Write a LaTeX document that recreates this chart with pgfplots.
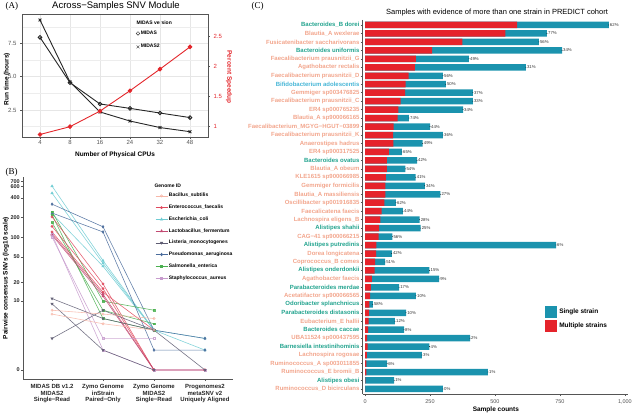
\documentclass[border=0pt]{standalone}
\usepackage{pgfplots}
\pgfplotsset{compat=1.18}
\usepackage{pgfplotstable}
\usepackage{fontspec}
\setmainfont{Liberation Sans}
\newfontfamily\seriffont{Liberation Serif}
\definecolor{bact}{HTML}{22A38E}
\definecolor{firm}{HTML}{F2A58C}
\definecolor{acti}{HTML}{45B5D6}
\definecolor{single}{HTML}{1B93AE}
\definecolor{multi}{HTML}{E5232B}
\definecolor{spd}{HTML}{E3262B}
\definecolor{bsC}{HTML}{F7B7A8}
\definecolor{efC}{HTML}{E04A5E}
\definecolor{ecC}{HTML}{6FCCD3}
\definecolor{lfC}{HTML}{C24A72}
\definecolor{lmC}{HTML}{5E5C72}
\definecolor{paC}{HTML}{4A6C9C}
\definecolor{seC}{HTML}{4BB050}
\definecolor{saC}{HTML}{C79BCD}
\definecolor{gridc}{HTML}{E6E6E6}
\definecolor{axc}{HTML}{555555}
\newcommand\Bt[1]{\textcolor{bact}{#1}}
\newcommand\Fm[1]{\textcolor{firm}{#1}}
\newcommand\Ac[1]{\textcolor{acti}{#1}}
\pgfplotsset{
  bs/.style={color=bsC, mark=o, mark size=1.1pt, line width=0.6pt},
  ef/.style={color=efC, mark=*, mark size=1.1pt, line width=0.6pt},
  ec/.style={color=ecC, mark=triangle*, mark size=1.3pt, line width=0.6pt},
  lf/.style={color=lfC, mark=triangle*, mark size=1.3pt, line width=0.6pt},
  lm/.style={color=lmC, mark=triangle*, mark size=1.3pt, mark options={rotate=180}, line width=0.6pt},
  pa/.style={color=paC, mark=diamond*, mark size=1.3pt, line width=0.6pt},
  se/.style={color=seC, mark=square*, mark size=0.9pt, line width=0.6pt},
  sa/.style={color=saC, mark=square, mark size=0.9pt, line width=0.6pt},
}
\newcommand\gline[2]{\addplot[#1,forget plot,opacity=0.85] table[x index=0,y expr={log10(\thisrowno{1}+1)},row sep=\\]{#2};}

\pgfplotstableread{
idx total multi pct
0 938 585 62
1 700 540 77
2 669 375 56
3 758 258 34
4 400 196 49
5 619 192 31
6 300 168 56
7 311 156 50
8 415 154 37
9 415 137 33
10 377 128 34
11 169 125 74
12 250 110 44
13 300 108 36
14 222 109 49
15 142 92 65
16 200 84 42
17 155 84 54
18 195 80 41
19 230 78 34
20 290 78 27
21 119 74 62
22 146 64 44
23 210 59 28
24 214 54 25
25 105 52 56
26 735 44 6
27 103 43 42
28 77 39 51
29 248 37 15
30 285 26 9
31 131 22 17
32 196 20 10
33 30 17 58
34 158 16 10
35 115 14 12
36 150 12 8
37 404 8 2
38 248 10 4
39 219 7 3
40 85 5 6
41 473 5 1
42 112 1 1
43 300 0 0
}\dataC

\begin{document}
\begin{tikzpicture}
\useasboundingbox (0,0) rectangle (636pt,415pt);

% ---------------- Panel A ----------------
\node[anchor=west, font=\seriffont\fontsize{9}{10}\selectfont] at (2pt,409pt) {(A)};
\node[font=\fontsize{9.5}{10}\selectfont] at (116pt,408.5pt) {Across−Samples SNV Module};
\node[anchor=west, font=\bfseries\fontsize{5}{6}\selectfont] at (133pt,392pt) {MIDAS version};

\begin{axis}[
  at={(22pt,277.7pt)}, anchor=south west, scale only axis,
  width=186pt, height=122.9pt,
  xmin=-0.6, xmax=5.6, ymin=0.45, ymax=9.67,
  xtick={0,...,5}, xticklabels={4,8,16,24,32,48},
  ytick={2.5,5,7.5},
  minor ytick={1.25,3.75,6.25,8.75},
  yticklabel style={/pgf/number format/.cd,fixed,fixed zerofill,precision=1},
  grid=both,
  major grid style={gridc, line width=0.6pt},
  minor grid style={gridc!70, line width=0.3pt},
  axis line style={axc, line width=0.6pt},
  tick style={axc, line width=0.5pt},
  tick align=outside, major tick length=2pt, minor tick length=0pt,
  xtick pos=bottom, ytick pos=left,
  tick label style={font=\fontsize{6}{7}\selectfont, text=axc},
  xticklabel style={inner sep=1pt},
  /pgf/number format/assume math mode=true,
  xlabel={Number of Physical CPUs},
  xlabel style={font=\bfseries\fontsize{6.5}{7}\selectfont, at={(axis description cs:0.5,-0.144)}, anchor=center},
  ylabel={Run time (hours)},
  every axis y label/.style={at={(axis description cs:-0.081,0.474)}, rotate=90, anchor=center, font=\bfseries\fontsize{6.5}{7}\selectfont},
  legend style={at={(axis description cs:0.613,0.875)}, anchor=north west, draw=none, fill=none,
    font=\bfseries\fontsize{5}{6}\selectfont, row sep=6.5pt, inner sep=0pt, nodes={inner sep=1pt}},
  legend cell align=left,
  legend image code/.code={\draw[mark repeat=2,mark phase=2,#1] plot coordinates {(0pt,0pt)(4pt,0pt)(8pt,0pt)};},
]
\addplot[forget plot, color=black!85, line width=0.9pt, mark=o, mark size=1.8pt] coordinates {
  (0,7.95) (1,4.55) (2,2.95) (3,2.62) (4,2.27) (5,1.93)};
\addplot[forget plot, color=black!85, line width=0.9pt, mark=x, mark size=2pt] coordinates {
  (0,9.25) (1,4.6) (2,2.35) (3,1.67) (4,1.18) (5,0.87)};
\addlegendimage{only marks, mark=o, mark size=1.8pt, black!80}
\addlegendentry{MIDAS}
\addlegendimage{only marks, mark=x, mark size=2pt, black!80}
\addlegendentry{MIDAS2}
\end{axis}

\begin{axis}[
  at={(22pt,277.7pt)}, anchor=south west, scale only axis,
  width=186pt, height=122.9pt,
  xmin=-0.6, xmax=5.6, ymin=0.823, ymax=2.872,
  axis x line=none, axis y line*=right,
  axis line style={axc, line width=0.6pt},
  ytick={1,1.5,2,2.5},
  tick style={axc, line width=0.5pt},
  tick align=outside, major tick length=2pt,
  yticklabel style={font=\fontsize{6}{7}\selectfont, text=spd},
  /pgf/number format/assume math mode=true,
  ylabel={Percent Speedup},
  every axis y label/.style={at={(axis description cs:1.113,0.49)}, rotate=-90, anchor=center, font=\bfseries\fontsize{6.5}{7}\selectfont, text=spd},
]
\addplot[color=spd, line width=0.9pt, mark=*, mark size=1.8pt] coordinates {
  (0,0.87) (1,1.0) (2,1.26) (3,1.6) (4,1.96) (5,2.33)};
\end{axis}

% ---------------- Panel B ----------------
\node[anchor=west, font=\seriffont\fontsize{9}{10}\selectfont] at (2pt,243pt) {(B)};
\node[anchor=west, font=\bfseries\fontsize{5}{6}\selectfont] at (151pt,229pt) {Genome ID};

\begin{axis}[
  at={(23pt,36pt)}, anchor=south west, scale only axis,
  width=210pt, height=202pt,
  xmin=-0.57, xmax=3.55, ymin=-0.136, ymax=2.917,
  axis x line*=bottom, axis y line*=left,
  axis line style={axc, line width=0.7pt},
  tick style={axc, line width=0.5pt},
  tick align=outside, major tick length=2pt,
  xtick={0,1,2,3},
  xticklabels={{MIDAS DB v1.2\\MIDAS2\\Single−Read},{Zymo Genome\\inStrain\\Paired−Only},{Zymo Genome\\MIDAS2\\Single−Read},{Progenomes2\\metaSNV v2\\Uniquely Aligned}},
  xticklabel style={align=center, font=\bfseries\fontsize{6}{6.4}\selectfont, text=black!85},
  ytick={0,1.0414,1.3222,1.7076,2.0043,2.3032,2.6031,2.7789,2.8457},
  yticklabels={0,10,20,50,100,200,400,600,700},
  yticklabel style={font=\bfseries\fontsize{5.5}{6}\selectfont, text=black!85, inner sep=1pt},
  ylabel={Pairwise consensus SNVs (log10 scale)},
  every axis y label/.style={at={(axis description cs:-0.081,0.5)}, rotate=90, anchor=center, font=\bfseries\fontsize{6.5}{7}\selectfont},
  legend style={at={(axis description cs:0.629,0.925)}, anchor=north west, draw=none, fill=none,
    font=\bfseries\fontsize{5}{6}\selectfont, row sep=4.6pt, inner sep=0pt, nodes={inner sep=1pt}},
  legend cell align=left,
  legend image code/.code={\draw[mark repeat=2,mark phase=2,#1] plot coordinates {(0pt,0pt)(6pt,0pt)(12pt,0pt)};},
]
% Escherichia coli
\gline{ec}{0 600\\1 44\\2 3\\3 2\\}
\gline{ec}{0 470\\1 40\\2 3\\3 1\\}
\gline{ec}{0 230\\1 36\\2 3\\}
% Pseudomonas aeruginosa
\gline{pa}{0 320\\1 145\\2 3\\3 2\\}
\gline{pa}{0 235\\1 121\\2 1\\3 1\\}
% Salmonella enterica
\gline{se}{0 245\\1 10\\2 7\\}
\gline{se}{0 168\\1 7\\2 4\\}
\gline{se}{0 220\\1 5\\2 3\\}
% Enterococcus faecalis
\gline{ef}{0 205\\1 19\\2 0\\3 0\\}
\gline{ef}{0 147\\1 16\\2 0\\}
\gline{ef}{0 121\\1 14\\2 3\\}
% Lactobacillus fermentum
\gline{lf}{0 113\\1 13\\2 0\\3 0\\}
\gline{lf}{0 108\\1 12\\2 0\\}
% Staphylococcus aureus
\gline{sa}{0 101\\1 2\\2 2\\}
\gline{sa}{0 110\\1 1\\2 0\\3 0\\}
% Listeria monocytogenes
\gline{lm}{0 11\\1 5\\2 3\\3 0\\}
\gline{lm}{0 9\\1 1\\2 0\\}
\gline{lm}{0 2\\1 7\\2 3\\}
% Bacillus subtilis
\gline{bs}{0 7\\1 6\\2 5\\}
\gline{bs}{0 6\\1 4\\2 3\\}
\addlegendimage{bs}\addlegendentry{Bacillus\_subtilis}
\addlegendimage{ef}\addlegendentry{Enterococcus\_faecalis}
\addlegendimage{ec}\addlegendentry{Escherichia\_coli}
\addlegendimage{lf}\addlegendentry{Lactobacillus\_fermentum}
\addlegendimage{lm}\addlegendentry{Listeria\_monocytogenes}
\addlegendimage{pa}\addlegendentry{Pseudomonas\_aeruginosa}
\addlegendimage{se}\addlegendentry{Salmonella\_enterica}
\addlegendimage{sa}\addlegendentry{Staphylococcus\_aureus}
\end{axis}

% ---------------- Panel C ----------------
\node[anchor=west, font=\seriffont\fontsize{9}{10}\selectfont] at (248pt,409pt) {(C)};
\node[font=\fontsize{7.5}{8}\selectfont] at (497pt,402.7pt) {Samples with evidence of more than one strain in PREDICT cohort};

\begin{axis}[
  at={(362.7pt,21pt)}, anchor=south west, scale only axis,
  width=265.3pt, height=374.1pt,
  xmin=-9, xmax=1012, ymin=-0.6, ymax=43.6, y dir=reverse,
  axis x line*=bottom, axis y line*=left,
  axis line style={axc, line width=0.8pt},
  tick style={axc, line width=0.5pt},
  tick align=outside, major tick length=2pt,
  xtick={0,250,500,750,1000},
  xticklabel style={font=\fontsize{5.5}{6}\selectfont, text=axc},
  /pgf/number format/assume math mode=true,
  ytick={0,...,43},
  yticklabels={
    \Bt{Bacteroides\_B dorei},
    \Fm{Blautia\_A wexlerae},
    \Fm{Fusicatenibacter saccharivorans},
    \Bt{Bacteroides uniformis},
    \Fm{Faecalibacterium prausnitzii\_G},
    \Fm{Agathobacter rectalis},
    \Fm{Faecalibacterium prausnitzii\_D},
    \Ac{Bifidobacterium adolescentis},
    \Fm{Gemmiger sp003476825},
    \Fm{Faecalibacterium prausnitzii\_C},
    \Fm{ER4 sp000765235},
    \Fm{Blautia\_A sp900066165},
    \Fm{Faecalibacterium\_MGYG−HGUT−03899},
    \Fm{Faecalibacterium prausnitzii\_K},
    \Fm{Anaerostipes hadrus},
    \Fm{ER4 sp900317525},
    \Bt{Bacteroides ovatus},
    \Fm{Blautia\_A obeum},
    \Fm{KLE1615 sp900066985},
    \Fm{Gemmiger formicilis},
    \Fm{Blautia\_A massiliensis},
    \Fm{Oscillibacter sp001916835},
    \Fm{Faecalicatena faecis},
    \Fm{Lachnospira eligens\_B},
    \Bt{Alistipes shahii},
    \Fm{CAG−41 sp900066215},
    \Bt{Alistipes putredinis},
    \Fm{Dorea longicatena},
    \Fm{Coprococcus\_B comes},
    \Bt{Alistipes onderdonkii},
    \Fm{Agathobacter faecis},
    \Bt{Parabacteroides merdae},
    \Fm{Acetatifactor sp900066565},
    \Bt{Odoribacter splanchnicus},
    \Bt{Parabacteroides distasonis},
    \Fm{Eubacterium\_E hallii},
    \Bt{Bacteroides caccae},
    \Fm{UBA11524 sp000437595},
    \Bt{Barnesiella intestinihominis},
    \Fm{Lachnospira rogosae},
    \Fm{Ruminococcus\_A sp003011855},
    \Fm{Ruminococcus\_E bromii\_B},
    \Bt{Alistipes obesi},
    \Fm{Ruminococcus\_D bicirculans}},
  yticklabel style={font=\bfseries\fontsize{6}{6}\selectfont, inner sep=1pt},
  xlabel={Sample counts},
  xlabel style={font=\bfseries\fontsize{6.5}{7}\selectfont, at={(axis description cs:0.502,-0.041)}, anchor=center},
  legend style={at={(axis description cs:0.687,0.235)}, anchor=north west, draw=none, fill=none,
    font=\bfseries\fontsize{6.5}{7}\selectfont, row sep=2pt, inner sep=0pt, nodes={inner sep=1pt}},
  legend cell align=left,
]
\addplot[xbar, bar width=6.5pt, bar shift=0pt, fill=single, draw=none,
  legend image code/.code={\fill[single] (0pt,-6pt) rectangle (12pt,6pt);}]
  table[x=total, y=idx] {\dataC};
\addlegendentry{\,Single strain}
\addplot[xbar, bar width=6.5pt, bar shift=0pt, fill=multi, draw=none,
  legend image code/.code={\fill[multi] (0pt,-6pt) rectangle (12pt,6pt);}]
  table[x=multi, y=idx] {\dataC};
\addlegendentry{\,Multiple strains}
\addplot[forget plot, only marks, mark=*, mark size=0.1pt, mark options={draw=none, fill=none},
  point meta=explicit symbolic,
  nodes near coords={\pgfplotspointmeta\%},
  nodes near coords style={anchor=west, font=\fontsize{4.3}{5}\selectfont, text=black!80, inner sep=1pt}]
  table[x=total, y=idx, meta=pct] {\dataC};
\end{axis}
\end{tikzpicture}
\end{document}
